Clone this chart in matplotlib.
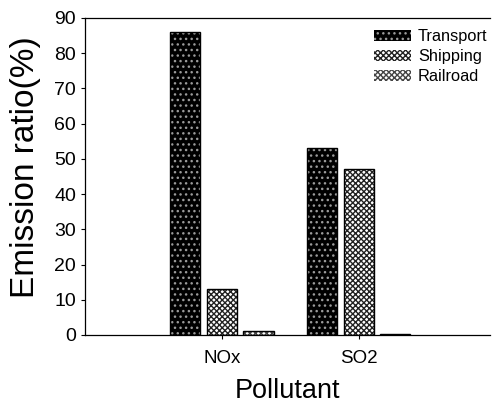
import numpy as np
import matplotlib.pyplot as plt
import matplotlib.patches as mpatches

plt.rcParams["font.family"] = ["Liberation Sans", "DejaVu Sans"]

# Donnees
polluants = ["NOx", "SO2"]
series = ["Transport", "Shipping", "Railroad"]
transport = [86, 53]
shipping = [13, 47]
railroad = [1, 0.3]

valeurs = [transport, shipping, railroad]
remplissage = ["black", "white", "white"]
motifs = ["...", "xxxxxx", "xxxxxx"]
couleur_motif = ["#9a9a9a", "#222222", "#444444"]

fig = plt.figure(figsize=(4.95, 4.2), dpi=100)
ax = fig.add_axes([0.172, 0.2024, 0.818, 0.755])

x = np.arange(len(polluants))
largeur = 0.22
pas = 0.267

for i, nom in enumerate(series):
    pos = x + (i - 1) * pas
    # remplissage + motif
    ax.bar(pos, valeurs[i], largeur, color=remplissage[i],
           hatch=motifs[i], edgecolor=couleur_motif[i], linewidth=0)
    # contour noir
    ax.bar(pos, valeurs[i], largeur, fill=False,
           edgecolor="black", linewidth=1.0)

# legende
leg_handles = []
for i, nom in enumerate(series):
    leg_handles.append(mpatches.Patch(facecolor=remplissage[i],
                                      hatch=motifs[i],
                                      edgecolor=couleur_motif[i],
                                      linewidth=0, label=nom))
ax.legend(handles=leg_handles, loc="upper right", frameon=False,
          fontsize=11.8, handlelength=2.3, handleheight=0.6,
          handletextpad=0.4, labelspacing=0.3,
          bbox_to_anchor=(1.03, 1.01))

ax.set_xlim(-1.0, 1.96)
ax.set_ylim(0, 90)
ax.set_yticks(range(0, 91, 10))
ax.set_xticks(x)
ax.set_xticklabels(polluants, fontsize=13.5)
ax.tick_params(axis="y", labelsize=14, length=3, width=0.8, direction="out")
ax.tick_params(axis="x", length=3, width=0.8, pad=8)

ax.spines["right"].set_visible(False)
for s in ["left", "top", "bottom"]:
    ax.spines[s].set_linewidth(0.9)

ax.set_ylabel("Emission ratio(%)", fontsize=24)
ax.yaxis.set_label_coords(-0.108, 0.53)
ax.set_xlabel("Pollutant", fontsize=19.5, labelpad=8)

fig.savefig("out.png", dpi=100)
